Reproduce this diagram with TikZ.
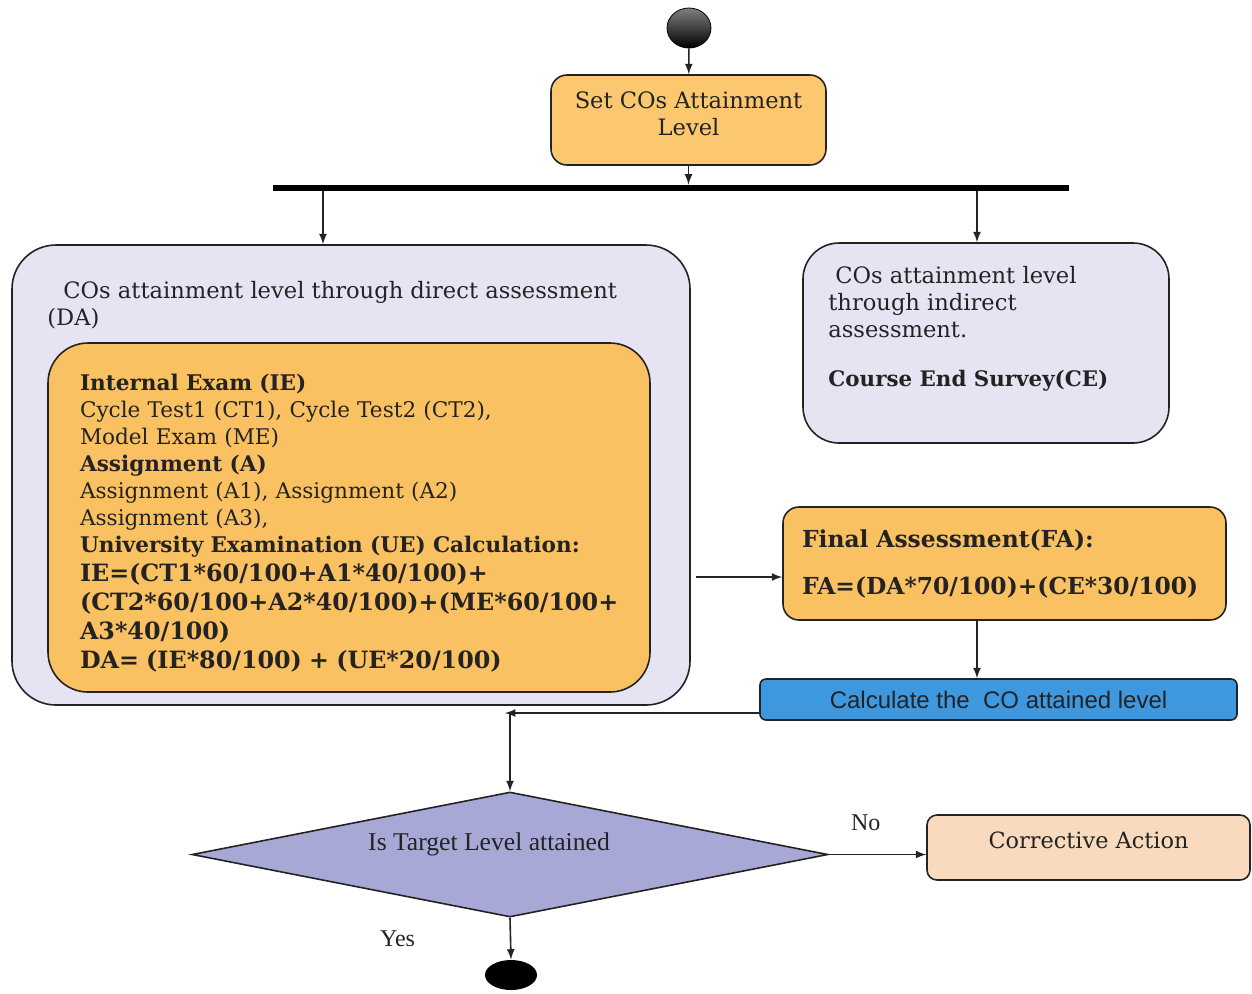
\documentclass[tikz,border=0pt]{standalone}
\usepackage{fontspec}
\setmainfont{DejaVu Serif}
\newfontfamily\narrowfont{Liberation Serif}
\newfontfamily\calcfont{Liberation Sans}
\usetikzlibrary{shapes.geometric}
\definecolor{boxorange}{RGB}{250,193,98}
\definecolor{setorange}{RGB}{251,200,112}
\definecolor{panellilac}{RGB}{230,227,243}
\definecolor{calcblue}{RGB}{62,152,224}
\definecolor{decidelilac}{RGB}{168,168,214}
\definecolor{fixpeach}{RGB}{249,218,190}
\definecolor{inkgray}{RGB}{35,35,35}

\begin{document}
\begin{tikzpicture}[x=0.5pt,y=-0.5pt,>=latex,
  every node/.style={text=inkgray},
  card/.style={draw=inkgray, thick, rounded corners=#1},
  card/.default=6pt,
  arr/.style={->, thick, draw=inkgray}]
  \useasboundingbox (0,0) rectangle (1252,993);

  \node[ellipse, draw=black, top color=gray, bottom color=black, minimum width=22pt, minimum height=20pt, inner sep=0] (start) at (689,28) {};
  \node[card=8pt, fill=setorange, minimum width=137.5pt, minimum height=45pt, align=center, font=\fontsize{11.3}{13.5}\selectfont] (set) at (688.5,120) {Set COs Attainment\\Level\rule[-6pt]{0pt}{6pt}};
  \node[fill=black, minimum width=398pt, minimum height=3pt, inner sep=0] (fork) at (671,188) {};

  \node[card=22pt, fill=panellilac, minimum width=339pt, minimum height=230pt] (da) at (351,475) {};
  \node[anchor=base west, align=left, inner sep=0, font=\fontsize{11.3}{13.5}\selectfont] (datitle) at (47,325) {\hspace{8pt}COs attainment level through direct assessment\\(DA)};
  \node[card=20pt, fill=boxorange, minimum width=301pt, minimum height=174.5pt, text width=269pt, align=left, font=\fontsize{10.8}{13.5}\selectfont] (ie) at (349,517.5)
    {\rule{0pt}{14pt}{\bfseries Internal Exam (IE)}\\
     Cycle Test1 (CT1), Cycle Test2 (CT2),\\
     Model Exam (ME)\\
     {\bfseries Assignment (A)}\\
     Assignment (A1), Assignment (A2)\\
     Assignment (A3),\\
     {\bfseries University Examination (UE) Calculation:}\\[1pt]
     {\fontsize{11.9}{14.5}\selectfont\bfseries IE=(CT1*60/100+A1*40/100)+}\\[1pt]
     {\fontsize{11.9}{14.5}\selectfont\bfseries (CT2*60/100+A2*40/100)+(ME*60/100+}\\[1pt]
     {\fontsize{11.9}{14.5}\selectfont\bfseries A3*40/100)}\\[1pt]
     {\fontsize{11.9}{14.5}\selectfont\bfseries DA= (IE*80/100) + (UE*20/100)}};

  \node[card=18pt, fill=panellilac, minimum width=183pt, minimum height=100pt] (ce) at (986,343) {};
  \node[anchor=base west, align=left, inner sep=0, font=\fontsize{11.3}{13.5}\selectfont] (cetext) at (828,386)
    {\hspace{3.5pt}COs attainment level\\through indirect\\assessment.\\[11pt]{\fontsize{10.7}{13.5}\selectfont\bfseries Course End Survey(CE)}};

  \node[card=8pt, fill=boxorange, minimum width=221.5pt, minimum height=56.5pt, text width=202.5pt, align=left, font=\fontsize{11.7}{13.5}\selectfont\bfseries] (fa) at (1004.5,563.5)
    {Final Assessment(FA):\\[10pt]FA=(DA*70/100)+(CE*30/100)};
  \node[draw=inkgray, thick, fill=calcblue, rounded corners=3pt, minimum width=238.5pt, minimum height=20.5pt, font=\calcfont\fontsize{12}{13}\selectfont] (calc) at (998.5,699.5) {Calculate the\ \ CO attained level};
  \coordinate (join) at (505,713);

  \node[diamond, draw=inkgray, thick, fill=decidelilac, minimum width=318pt, minimum height=62.5pt, inner sep=0] (test) at (510,854.5) {};
  \node[font=\narrowfont\fontsize{12.8}{14}\selectfont] (testtext) at (489,844) {Is Target Level attained};
  \node[card=5pt, fill=fixpeach, minimum width=161.5pt, minimum height=32.5pt, font=\fontsize{11.2}{13}\selectfont] (fix) at (1088.5,847.5) {\raisebox{7pt}{Corrective Action}};
  \node[ellipse, fill=black, minimum width=26pt, minimum height=15pt, inner sep=0] (finish) at (511,975) {};

  \draw[arr] (start) -- (set);
  \draw[arr] (set) -- (set.south |- fork.north);
  \draw[arr] ([xshift=-14pt]da.north |- fork.south) -- ([xshift=-14pt]da.north);
  \draw[arr] ([xshift=-4.5pt]ce.north |- fork.south) -- ([xshift=-4.5pt]ce.north);
  \draw[arr] ([xshift=2.5pt,yshift=-6.75pt]da.east |- fa.west) -- ([yshift=-6.75pt]fa.west);
  \draw[arr] ([xshift=-13.75pt]fa.south) -- ([xshift=-13.75pt]fa.south |- calc.north);
  \draw[arr] (calc.west |- join) -- (join);
  \draw[arr] (join -| test.north) -- (test.north);
  \draw[arr] (test.east) -- (fix.west |- test.east) node[pos=0.38, above=8pt, font=\narrowfont\fontsize{12}{13}\selectfont] {No};
  \draw[arr] (test.south) -- (finish.north) node[midway, left=44pt, font=\narrowfont\fontsize{12}{13}\selectfont] {Yes};
\end{tikzpicture}
\end{document}
